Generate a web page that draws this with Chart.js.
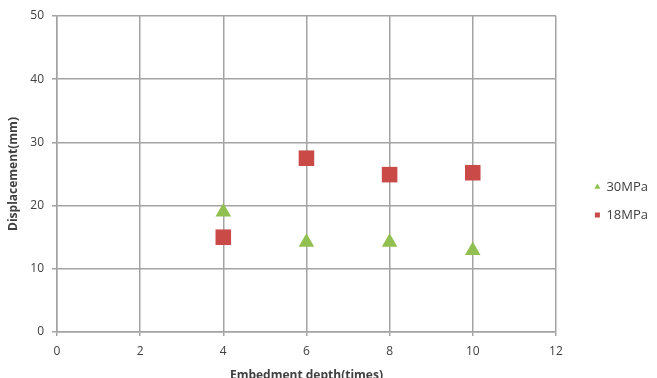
<!DOCTYPE html>
<html>
<head>
<meta charset="utf-8">
<script src="https://cdn.jsdelivr.net/npm/chart.js@4"></script>
<style>
  html, body { margin: 0; padding: 0; background: #ffffff; overflow: hidden; }
  #wrap { width: 657px; height: 386px; position: relative; }
</style>
</head>
<body>
<div id="wrap"><canvas id="dispChart"></canvas></div>
<script>
// embedment depth (times) vs displacement (mm)
const depths = [4, 6, 8, 10];
const disp30MPa = [19.0, 14.2, 14.2, 12.9];
const disp18MPa = [15.0, 27.5, 24.9, 25.2];
const seriesNames = ['30MPa', '18MPa'];

const xTicks = [0, 2, 4, 6, 8, 10, 12];
const yTicks = [0, 10, 20, 30, 40, 50];

const toPoints = (xs, ys) => xs.map((x, i) => ({ x: x, y: ys[i] }));

const textColor = '#404040';
const gridColor = '#a3a3a3';
const fontFamily = '"Open Sans", sans-serif';

// push the legend entries a bit further away from the plot area
const legendShift = {
    id: 'legendShift',
    afterLayout(chart) {
        if (chart.legend) {
            chart.legend.left += 24;
            chart.legend.right += 24;
        }
    }
};

new Chart(document.getElementById('dispChart'), {
    type: 'scatter',
    data: {
        datasets: [{
            label: seriesNames[0],
            data: toPoints(depths, disp30MPa),
            pointStyle: 'triangle',
            pointRadius: 9,
            pointHoverRadius: 9,
            backgroundColor: '#92c050',
            borderColor: '#92c050',
            borderWidth: 0
        }, {
            label: seriesNames[1],
            data: toPoints(depths, disp18MPa),
            pointStyle: 'rect',
            pointRadius: 11,
            pointHoverRadius: 11,
            backgroundColor: '#c94a47',
            borderColor: '#c94a47',
            borderWidth: 0
        }]
    },
    options: {
        responsive: true,
        maintainAspectRatio: false,
        animation: false,
        layout: {
            padding: { top: 16, right: 23, bottom: 0, left: 0 }
        },
        plugins: {
            tooltip: { enabled: false },
            legend: {
                position: 'right',
                labels: {
                    usePointStyle: true,
                    boxWidth: 5,
                    boxHeight: 5,
                    padding: 15,
                    color: textColor,
                    font: { family: fontFamily, size: 13 }
                }
            }
        },
        scales: {
            x: {
                type: 'linear',
                min: xTicks[0],
                max: xTicks[xTicks.length - 1],
                afterBuildTicks: (scale) => { scale.ticks = xTicks.map(v => ({ value: v })); },
                afterFit: (scale) => { scale.height = 54; },
                grid: { color: gridColor, lineWidth: 1.5, tickLength: 4 },
                border: { color: gridColor, width: 1.5 },
                ticks: { color: textColor, padding: 8, font: { family: fontFamily, size: 12 } },
                title: {
                    display: true,
                    text: 'Embedment depth(times)',
                    color: textColor,
                    padding: { top: 0, bottom: 3 },
                    font: { family: fontFamily, size: 12, weight: 'bold' }
                }
            },
            y: {
                type: 'linear',
                min: yTicks[0],
                max: yTicks[yTicks.length - 1],
                afterBuildTicks: (scale) => { scale.ticks = yTicks.map(v => ({ value: v })); },
                afterFit: (scale) => { scale.width = 57; },
                grid: { color: gridColor, lineWidth: 1.5, tickLength: 5 },
                border: { color: gridColor, width: 1.5 },
                ticks: { color: textColor, padding: 8, font: { family: fontFamily, size: 12 } },
                title: {
                    display: true,
                    text: 'Displacement(mm)',
                    color: textColor,
                    padding: { top: 6, bottom: 0 },
                    font: { family: fontFamily, size: 12, weight: 'bold' }
                }
            }
        }
    },
    plugins: [legendShift]
});
</script>
</body>
</html>
